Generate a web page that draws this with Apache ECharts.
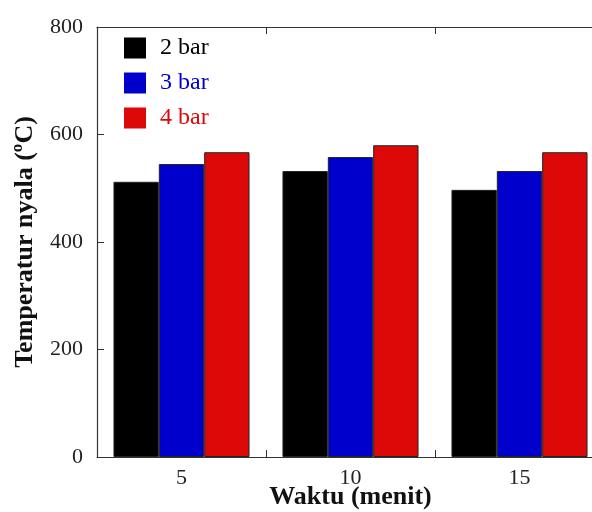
<!DOCTYPE html>
<html>
<head>
<meta charset="utf-8">
<script src="https://cdn.jsdelivr.net/npm/echarts@6/dist/echarts.min.js"></script>
<style>html,body{margin:0;padding:0;background:#fff}#c{width:592px;height:512px}</style>
</head>
<body>
<div id="c"></div>
<script>
const categories = ['5', '10', '15'];
const seriesNames = ['2 bar', '3 bar', '4 bar'];
const bar2 = [512, 532, 497];
const bar3 = [545, 558, 532];
const bar4 = [567, 580, 567];
const yTicks = { min: 0, max: 800, interval: 200 };
const colors = ['#000000', '#0000cc', '#dd0808'];

const font = '"Liberation Serif", "Times New Roman", serif';
const chart = echarts.init(document.getElementById('c'), null, { renderer: 'canvas' });
const axisLine = { show: true, lineStyle: { color: '#333', width: 1.2 } };
const mk = (name, data, i) => ({
  name, type: 'bar', data, barGap: '0%', barCategoryGap: '19.5%',
  itemStyle: { color: colors[i], borderColor: '#222', borderWidth: 1 },
  xAxisIndex: 0, yAxisIndex: 0
});
chart.setOption({
  animation: false,
  backgroundColor: '#fff',
  grid: { left: 97, top: 27, bottom: 55, width: 507, containLabel: false, outerBoundsMode: 'none' },
  legend: {
    orient: 'vertical', left: 124, top: 36, padding: 0,
    itemWidth: 22, itemHeight: 21, itemGap: 11,
    icon: 'rect',
    textStyle: { fontFamily: font, fontSize: 24, padding: [0, 0, 0, 9] },
    data: seriesNames.map((n, i) => ({ name: n, textStyle: { color: colors[i] }, itemStyle: { borderWidth: 0 } }))
  },
  xAxis: [{
    type: 'category', data: categories, position: 'bottom',
    axisLine, axisTick: { show: true, inside: true, length: 7, lineStyle: { color: '#333' } },
    axisLabel: { fontFamily: font, fontSize: 22, color: '#222', margin: 10 },
    name: 'Waktu (menit)', nameLocation: 'middle', nameGap: 27, nameMoveOverlap: false,
    nameTextStyle: { fontFamily: font, fontSize: 26, fontWeight: 'bold', color: '#111' }
  }, {
    type: 'category', data: categories, position: 'top',
    axisLine, axisTick: { show: true, inside: true, length: 7, lineStyle: { color: '#333' } },
    axisLabel: { show: false }
  }],
  yAxis: [{
    type: 'value', min: yTicks.min, max: yTicks.max, interval: yTicks.interval,
    axisLine, axisTick: { show: true, inside: true, length: 7, lineStyle: { color: '#333' } },
    axisLabel: { fontFamily: font, fontSize: 22, color: '#222', margin: 14 },
    splitLine: { show: false },
    name: 'Temperatur nyala (ºC)', nameLocation: 'middle', nameGap: 59, nameRotate: 90, nameMoveOverlap: false,
    nameTextStyle: { fontFamily: font, fontSize: 26, fontWeight: 'bold', color: '#111' }
  }],
  series: [mk(seriesNames[0], bar2, 0), mk(seriesNames[1], bar3, 1), mk(seriesNames[2], bar4, 2)]
});
</script>
</body>
</html>
